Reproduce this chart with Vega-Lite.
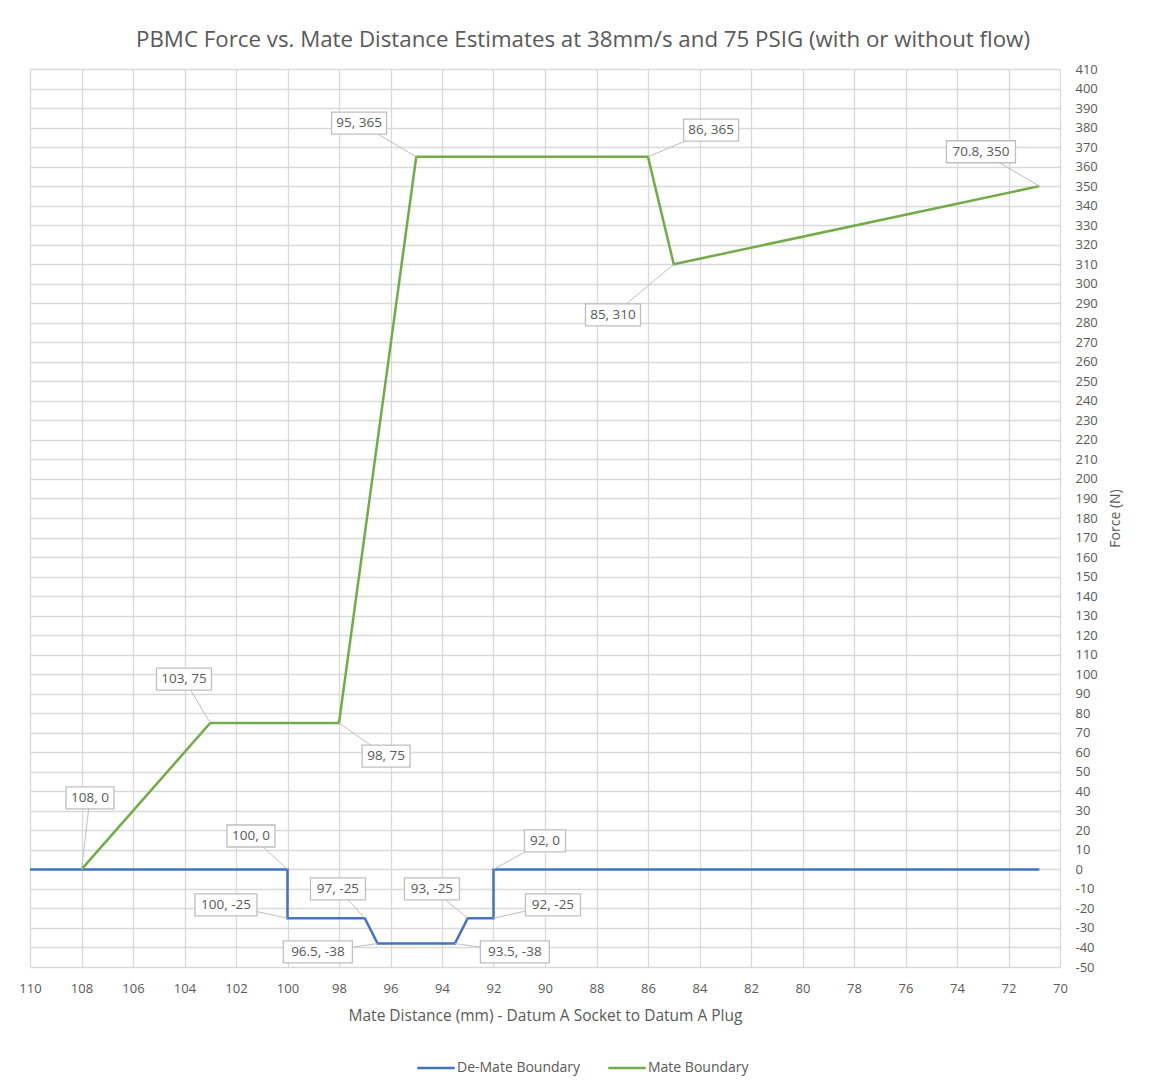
{
  "$schema": "https://vega.github.io/schema/vega-lite/v6.json",
  "autosize": {"type": "none"},
  "padding": {"left": 30, "top": 69, "right": 97, "bottom": 121},
  "width": 1030,
  "height": 898,
  "background": "white",
  "title": {
    "text": "PBMC Force vs. Mate Distance Estimates at 38mm/s and 75 PSIG (with or without flow)",
    "fontSize": 22.3,
    "font": "Open Sans",
    "fontWeight": "normal",
    "color": "#595959",
    "anchor": "middle",
    "dx": 38,
    "offset": 12
  },
  "config": {
    "view": {"stroke": null},
    "axis": {
      "labelFont": "Open Sans",
      "labelFontSize": 13,
      "labelColor": "#595959",
      "labelFlush": false,
      "titleFont": "Open Sans",
      "titleFontSize": 15.5,
      "titleFontWeight": "normal",
      "titleColor": "#595959",
      "grid": true,
      "gridColor": "#D9D9D9",
      "gridWidth": 1.3,
      "domain": false,
      "ticks": false
    },
    "legend": {
      "labelFont": "Open Sans",
      "labelFontSize": 14,
      "labelColor": "#595959"
    }
  },
  "datasets": {
    "lines": [
      {"series": "De-Mate Boundary", "seq": 1, "dist": 110, "force": 0},
      {"series": "De-Mate Boundary", "seq": 2, "dist": 100, "force": 0},
      {"series": "De-Mate Boundary", "seq": 3, "dist": 100, "force": -25},
      {"series": "De-Mate Boundary", "seq": 4, "dist": 97, "force": -25},
      {"series": "De-Mate Boundary", "seq": 5, "dist": 96.5, "force": -38},
      {"series": "De-Mate Boundary", "seq": 6, "dist": 93.5, "force": -38},
      {"series": "De-Mate Boundary", "seq": 7, "dist": 93, "force": -25},
      {"series": "De-Mate Boundary", "seq": 8, "dist": 92, "force": -25},
      {"series": "De-Mate Boundary", "seq": 9, "dist": 92, "force": 0},
      {"series": "De-Mate Boundary", "seq": 10, "dist": 70.8, "force": 0},
      {"series": "Mate Boundary", "seq": 1, "dist": 108, "force": 0},
      {"series": "Mate Boundary", "seq": 2, "dist": 103, "force": 75},
      {"series": "Mate Boundary", "seq": 3, "dist": 98, "force": 75},
      {"series": "Mate Boundary", "seq": 4, "dist": 95, "force": 365},
      {"series": "Mate Boundary", "seq": 5, "dist": 86, "force": 365},
      {"series": "Mate Boundary", "seq": 6, "dist": 85, "force": 310},
      {"series": "Mate Boundary", "seq": 7, "dist": 70.8, "force": 350}
    ],
    "labels": [
      {"label": "108, 0", "dist": 108, "force": 0, "lx": 107.67, "ly": 36.6},
      {"label": "103, 75", "dist": 103, "force": 75, "lx": 104.02, "ly": 97.5},
      {"label": "98, 75", "dist": 98, "force": 75, "lx": 96.17, "ly": 58},
      {"label": "95, 365", "dist": 95, "force": 365, "lx": 97.22, "ly": 382.3},
      {"label": "86, 365", "dist": 86, "force": 365, "lx": 83.55, "ly": 378.7},
      {"label": "85, 310", "dist": 85, "force": 310, "lx": 87.36, "ly": 284},
      {"label": "70.8, 350", "dist": 70.8, "force": 350, "lx": 73.07, "ly": 367.6},
      {"label": "100, 0", "dist": 100, "force": 0, "lx": 101.42, "ly": 17.1},
      {"label": "100, -25", "dist": 100, "force": -25, "lx": 102.39, "ly": -18.2},
      {"label": "97, -25", "dist": 97, "force": -25, "lx": 98.04, "ly": -10},
      {"label": "96.5, -38", "dist": 96.5, "force": -38, "lx": 98.82, "ly": -42.3},
      {"label": "93, -25", "dist": 93, "force": -25, "lx": 94.39, "ly": -10},
      {"label": "93.5, -38", "dist": 93.5, "force": -38, "lx": 91.17, "ly": -42.3},
      {"label": "92, 0", "dist": 92, "force": 0, "lx": 90, "ly": 14.6},
      {"label": "92, -25", "dist": 92, "force": -25, "lx": 89.69, "ly": -18.2}
    ]
  },
  "encoding": {
    "x": {
      "type": "quantitative",
      "scale": {"domain": [70, 110], "reverse": true, "nice": false, "zero": false},
      "axis": {"title": "Mate Distance (mm) - Datum A Socket to Datum A Plug", "tickCount": 20, "labelPadding": 15, "titlePadding": 13, "grid": true}
    },
    "y": {
      "type": "quantitative",
      "scale": {"domain": [-50, 410], "nice": false, "zero": false},
      "axis": {"title": "Force (N)", "orient": "right", "tickCount": 46, "labelPadding": 15, "titlePadding": 11, "titleAngle": 270, "titleBaseline": "top", "titleFontSize": 14, "grid": true, "labelExpr": "datum.value + ''"}
    }
  },
  "layer": [
    {
      "mark": {"type": "rule", "color": "#BFBFBF", "strokeWidth": 1.3},
      "encoding": {"y": {"datum": 0, "type": "quantitative"}}
    },
    {
      "data": {"name": "lines"},
      "mark": {"type": "line", "strokeWidth": 2.5},
      "encoding": {
        "x": {"field": "dist", "type": "quantitative"},
        "y": {"field": "force", "type": "quantitative"},
        "order": {"field": "seq"},
        "color": {
          "field": "series",
          "type": "nominal",
          "scale": {"domain": ["De-Mate Boundary", "Mate Boundary"], "range": ["#4472C4", "#70AD47"]},
          "legend": {
            "title": null,
            "orient": "none",
            "direction": "horizontal",
            "legendX": 386,
            "legendY": 979,
            "symbolType": "stroke",
            "symbolSize": 1400,
            "symbolStrokeWidth": 2.5,
            "columnPadding": 22,
            "labelOffset": 1
          }
        }
      }
    },
    {
      "data": {"name": "labels"},
      "mark": {"type": "rule", "color": "#BFBFBF", "strokeWidth": 1},
      "encoding": {
        "x": {"field": "dist", "type": "quantitative"},
        "y": {"field": "force", "type": "quantitative"},
        "x2": {"field": "lx"},
        "y2": {"field": "ly"}
      }
    },
    {
      "data": {"name": "labels"},
      "mark": {"type": "rect", "fill": "white", "stroke": "#BFBFBF", "strokeWidth": 1.3, "width": {"expr": "length(datum.label)*7+6"}, "height": 22},
      "encoding": {
        "x": {"field": "lx", "type": "quantitative"},
        "y": {"field": "ly", "type": "quantitative"}
      }
    },
    {
      "data": {"name": "labels"},
      "mark": {"type": "text", "font": "Open Sans", "fontSize": 13.5, "color": "#595959"},
      "encoding": {
        "x": {"field": "lx", "type": "quantitative"},
        "y": {"field": "ly", "type": "quantitative"},
        "text": {"field": "label"}
      }
    }
  ]
}
